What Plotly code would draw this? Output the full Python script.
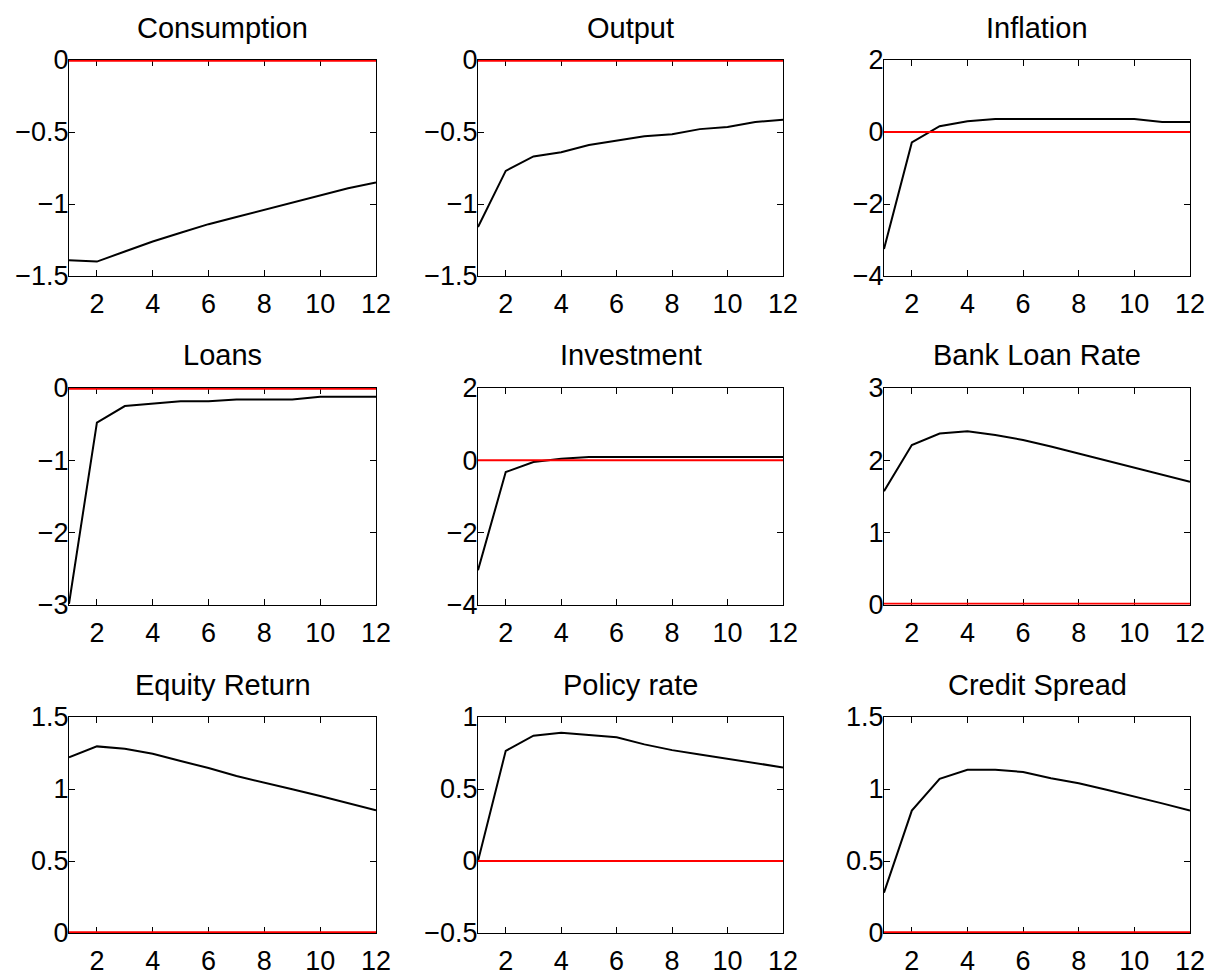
import plotly.graph_objects as go

periods = list(range(1, 13))

titles = ["Consumption", "Output", "Inflation",
          "Loans", "Investment", "Bank Loan Rate",
          "Equity Return", "Policy rate", "Credit Spread"]

consumption = [-1.39, -1.40, -1.33, -1.26, -1.20, -1.14, -1.09, -1.04, -0.99, -0.94, -0.89, -0.85]
output = [-1.16, -0.77, -0.67, -0.64, -0.59, -0.56, -0.53, -0.515, -0.48, -0.465, -0.43, -0.415]
inflation = [-3.25, -0.29, 0.16, 0.30, 0.36, 0.36, 0.36, 0.36, 0.36, 0.36, 0.28, 0.28]
loans = [-2.99, -0.48, -0.25, -0.22, -0.185, -0.185, -0.16, -0.16, -0.16, -0.12, -0.12, -0.12]
investment = [-3.05, -0.33, -0.05, 0.04, 0.09, 0.09, 0.09, 0.09, 0.09, 0.09, 0.09, 0.09]
bank_loan_rate = [1.57, 2.21, 2.37, 2.40, 2.35, 2.28, 2.19, 2.09, 1.99, 1.90, 1.80, 1.70]
equity_return = [1.22, 1.296, 1.28, 1.245, 1.194, 1.146, 1.09, 1.046, 0.998, 0.951, 0.903, 0.852]
policy_rate = [0.0, 0.765, 0.87, 0.89, 0.875, 0.86, 0.81, 0.77, 0.74, 0.71, 0.68, 0.65]
credit_spread = [0.28, 0.85, 1.07, 1.134, 1.134, 1.118, 1.074, 1.04, 0.995, 0.95, 0.90, 0.85]

series = [consumption, output, inflation, loans, investment, bank_loan_rate,
          equity_return, policy_rate, credit_spread]

y_ranges = [[-1.5, 0], [-1.5, 0], [-4, 2],
            [-3, 0], [-4, 2], [0, 3],
            [0, 1.5], [-0.5, 1], [0, 1.5]]
y_dticks = [0.5, 0.5, 2, 1, 2, 1, 0.5, 0.5, 0.5]
x_ticks = [2, 4, 6, 8, 10, 12]

W, H = 1227, 978
col_px = [(69, 376), (478, 783), (884, 1190)]
row_px = [(60, 276), (388, 604.5), (717, 933)]
title_y_px = [28, 355, 685]

FONT = "Liberation Sans, Arial, Helvetica, sans-serif"

fig = go.Figure()
layout = dict(
    width=W, height=H,
    margin=dict(l=0, r=0, t=0, b=0, pad=0, autoexpand=False),
    paper_bgcolor="white", plot_bgcolor="white",
    showlegend=False,
    font=dict(family=FONT, size=27, color="black"),
    annotations=[],
)

for i in range(9):
    r, c = divmod(i, 3)
    n = i + 1
    xa = "x" if n == 1 else f"x{n}"
    ya = "y" if n == 1 else f"y{n}"
    xkey = "xaxis" if n == 1 else f"xaxis{n}"
    ykey = "yaxis" if n == 1 else f"yaxis{n}"
    x0, x1 = col_px[c]
    y0, y1 = row_px[r]
    layout[xkey] = dict(
        domain=[x0 / W, x1 / W], anchor=ya, range=[1, 12],
        tickmode="array", tickvals=x_ticks,
        showline=True, mirror="ticks", linecolor="black", linewidth=1,
        ticks="inside", ticklen=6, tickwidth=1.2, tickcolor="black",
        showgrid=False, zeroline=False, layer="below traces",
        ticklabelstandoff=4, automargin=False,
        tickfont=dict(family=FONT, size=27, color="black"),
    )
    layout[ykey] = dict(
        domain=[1 - y1 / H, 1 - y0 / H], anchor=xa, range=y_ranges[i],
        dtick=y_dticks[i], tick0=0,
        showline=True, mirror="ticks", linecolor="black", linewidth=1,
        ticks="inside", ticklen=6, tickwidth=1.2, tickcolor="black",
        showgrid=False, zeroline=False, layer="below traces",
        ticklabelstandoff=-6, automargin=False,
        tickfont=dict(family=FONT, size=27, color="black"),
    )
    on_edge = y_ranges[i][0] == 0 or y_ranges[i][1] == 0
    fig.add_trace(go.Scatter(
        x=periods, y=series[i], mode="lines", xaxis=xa, yaxis=ya,
        line=dict(color="black", width=2), cliponaxis=False, hoverinfo="skip"))
    fig.add_trace(go.Scatter(
        x=[1, 12], y=[0, 0], mode="lines", xaxis=xa, yaxis=ya,
        line=dict(color="#ff0000", width=3.4 if on_edge else 2),
        cliponaxis=False, hoverinfo="skip"))
    layout["annotations"].append(dict(
        text=titles[i], xref="paper", yref="paper",
        x=(x0 + x1) / 2 / W, y=1 - title_y_px[r] / H,
        xanchor="center", yanchor="middle", showarrow=False,
        font=dict(family=FONT, size=29, color="black"),
    ))

fig.update_layout(**layout)
fig.write_html("out.html")
